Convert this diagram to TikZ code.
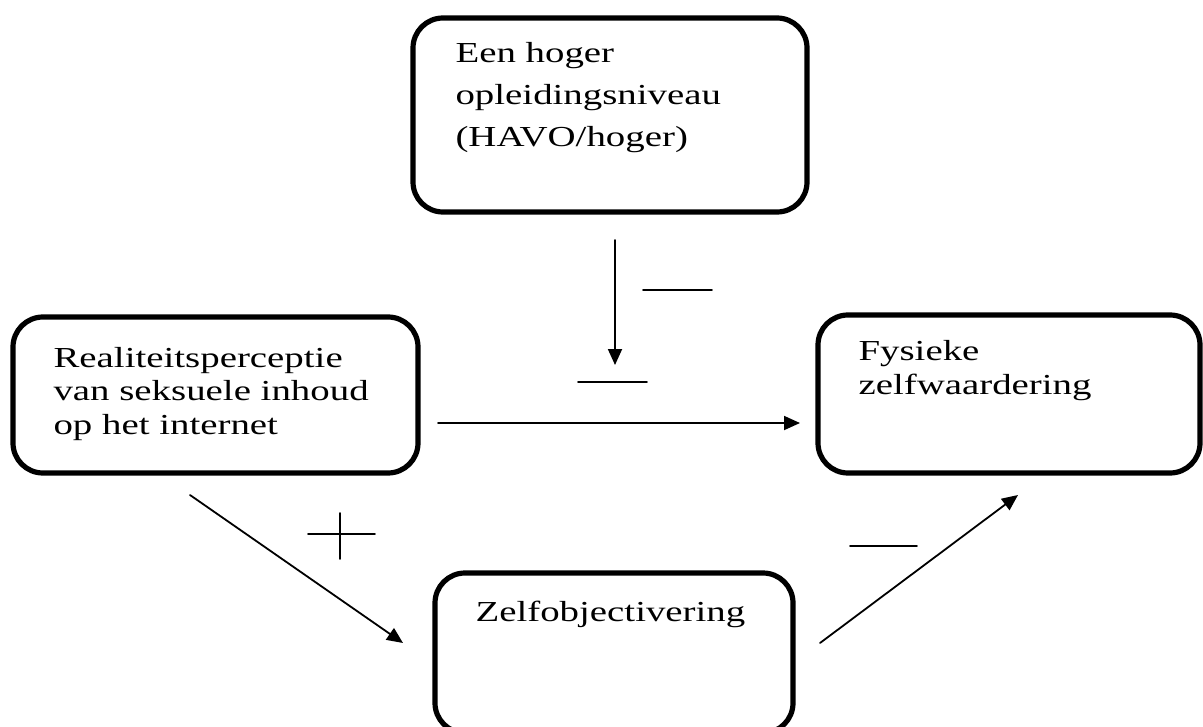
\documentclass[tikz,border=0pt]{standalone}
\usepackage{fontspec}
\setmainfont{Liberation Serif}
\usetikzlibrary{arrows.meta,calc}

\begin{document}
\begin{tikzpicture}[x=0.5pt,y=-0.5pt,line cap=round,
   box/.style={draw,line width=2.6pt,rounded corners=15pt,inner sep=0pt,outer sep=0pt},
   boxtext/.style={anchor=north west,inner sep=0pt,align=left,xscale=1.34,
                   font=\fontsize{14.5}{16.75}\selectfont},
   arr/.style={line width=0.9pt,-{Triangle[length=8pt,width=7pt]}},
   sign/.style={line width=0.8pt}]

   % Frame
   \useasboundingbox (0,0) rectangle (1203,727);
   \clip (0,0) rectangle (1203,727);

   % Boxes
   \node[box,minimum width=197pt,minimum height=97pt]   (hoger)     at (610,115)   {};
   \node[box,minimum width=202.5pt,minimum height=78pt] (realiteit) at (215.5,395) {};
   \node[box,minimum width=191pt,minimum height=79pt]   (fysiek)    at (1009,394)  {};
   \node[box,minimum width=179pt,minimum height=80pt]   (zelf)      at (614,653)   {};

   % Box texts
   \node[boxtext,font=\fontsize{14.5}{21}\selectfont] (hogertext)
        at ($(hoger.north west)+(42,24)$)
        {Een hoger\\opleidingsniveau\\(HAVO/hoger)};
   \node[boxtext] (realiteittext) at ($(realiteit.north west)+(40,29.5)$)
        {Realiteitsperceptie\\van seksuele inhoud\\op het internet};
   \node[boxtext] (fysiektext) at ($(fysiek.north west)+(40,25)$)
        {Fysieke\\zelfwaardering};
   \node[boxtext] (zelftext) at ($(zelf.north west)+(40,27.5)$)
        {Zelfobjectivering};

   % Arrows
   \draw[arr] ($(hoger.south)+(5,28)$) -- ($(hoger.south)+(5,153)$);
   \draw[arr] ($(realiteit.east)+(20,28)$) -- ($(fysiek.west)+(-18,29)$);
   \draw[arr] ($(realiteit.south)+(-25.5,22)$) -- ($(zelf.north west)+(-32,70)$);
   \draw[arr] ($(zelf.north east)+(27,70)$) -- ($(fysiek.south)+(9,22)$);

   % Signs
   \draw[sign] (643,290) -- (712,290);
   \draw[sign] (578,382) -- (647,382);
   \draw[sign] (308,534) -- (375,534);
   \draw[sign] (340,513) -- (340,559);
   \draw[sign] (850,546) -- (917,546);

\end{tikzpicture}
\end{document}
